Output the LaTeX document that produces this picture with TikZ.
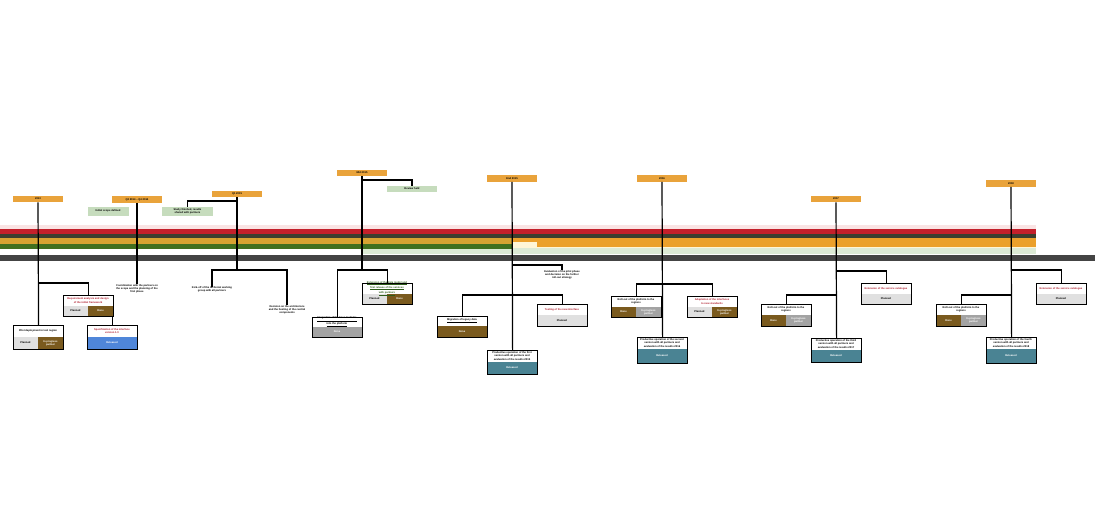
\documentclass[tikz,border=0pt]{standalone}
\usepackage{fontspec}
\setmainfont{Liberation Sans}
\definecolor{hdr}{HTML}{E9A33B}
\definecolor{gbox}{HTML}{C6DCBD}
\definecolor{brownc}{HTML}{7A5A1E}
\definecolor{lgrey}{HTML}{E0E0E0}
\definecolor{mgrey}{HTML}{A3A3A3}
\definecolor{bluec}{HTML}{4F86D9}
\definecolor{tealc}{HTML}{4A8393}
\definecolor{redt}{HTML}{B01E2E}
\definecolor{greent}{HTML}{2E5E1A}
\definecolor{pinkb}{HTML}{FAE4E4}
\definecolor{redb}{HTML}{C3202B}
\definecolor{darkb}{HTML}{3B3F2F}
\definecolor{yellb}{HTML}{D7A332}
\definecolor{greenb}{HTML}{41701F}
\definecolor{lgreenb}{HTML}{DCEAD5}
\definecolor{orangeb}{HTML}{EBA02B}
\definecolor{lyellb}{HTML}{FFF5D6}
\definecolor{axisc}{HTML}{444444}
\newcommand\tinyfont{\fontsize{2.6}{3.2}\selectfont\bfseries}
% one-colour bottom card: name,x,y,h,split,bottom colour,top text,text colour
\newcommand\cardone[8]{%
  \fill[white] (#2,#3) rectangle ++(50,#4);
  \fill[#6] (#2,#3+#5) rectangle ++(50,#4-#5);
  \node[cardframe, minimum height=#4pt] (#1) at (#2,#3) {};
  \node[txt, text=#8] (#1t) at (#2+25,#3+#5/2) {#7};
}
% two-colour bottom card: name,x,y,h,split,left colour,right colour,top text,text colour
\newcommand\cardtwo[9]{%
  \fill[white] (#2,#3) rectangle ++(50,#4);
  \fill[#6] (#2,#3+#5) rectangle ++(25,#4-#5);
  \fill[#7] (#2+25,#3+#5) rectangle ++(25,#4-#5);
  \node[cardframe, minimum height=#4pt] (#1) at (#2,#3) {};
  \node[txt, text=#9] (#1t) at (#2+25,#3+#5/2) {#8};
}
\begin{document}
\begin{tikzpicture}[x=1pt,y=-1pt,
  hdrbox/.style={fill=hdr, minimum width=50pt, minimum height=6.5pt, inner sep=0pt, font=\tinyfont},
  gnbox/.style={fill=gbox, minimum width=50pt, minimum height=8pt, inner sep=0pt, font=\tinyfont, align=center},
  conn/.style={line width=1.2pt, black},
  cardframe/.style={draw, line width=1.2pt, anchor=north west, minimum width=50pt, inner sep=0pt},
  txt/.style={font=\tinyfont, align=center, inner sep=0pt},
]
\useasboundingbox (0,0) rectangle (1095,522);
\fill[white] (0,0) rectangle (1095,522);

% ---- bands ----
\fill[pinkb] (0,225) rectangle (1036,229);
\fill[redb] (0,229) rectangle (1036,234);
\fill[darkb] (0,234) rectangle (1036,238);
\fill[yellb] (0,238) rectangle (512,244);
\fill[greenb] (0,244) rectangle (512,249);
\fill[lgreenb] (362,249) rectangle (512,254);
\fill[orangeb] (512,238) rectangle (537,242);
\fill[lyellb] (512,242) rectangle (537,247);
\fill[orangeb] (537,238) rectangle (1036,247);
\fill[lyellb] (512,247) rectangle (1036,248);
\fill[lgreenb] (512,248) rectangle (1036,254);
\fill[axisc] (0,255) rectangle (1095,261);

% ---- headers ----
\node[hdrbox] (h1) at (38,199) {2013};
\node[hdrbox] (h2) at (137,199.5) {Q2 2014 -- Q4 2014};
\node[hdrbox] (h3) at (237,194) {Q1 2015};
\node[hdrbox] (h4) at (362,173) {Mid 2015};
\node[hdrbox] (h5) at (512,178.5) {End 2015};
\node[hdrbox] (h6) at (662,178.5) {2016};
\node[hdrbox] (h7) at (836,199) {2017};
\node[hdrbox] (h8) at (1011,183.5) {2018};

% ---- green notes ----
\node[gnbox, minimum width=41pt, minimum height=9pt] (g1) at (108,211) {Initial scope defined};
\node[gnbox, minimum width=51pt, minimum height=9pt] (g3) at (187.5,211.5) {Study finished, results\\ shared with partners};
\node[gnbox, minimum height=6.5pt] (g4) at (412,189) {Review held};

% ---- cards ----
\cardtwo{A0}{13}{325}{24}{12}{lgrey}{brownc}{Pilot deployment in test region}{black}
\node[txt] (A0l) at (25.5,343) {Planned};
\node[txt, text=white] (A0r) at (50.5,343) {In progress\\ partner};
\cardtwo{A1}{63}{295}{21}{11}{lgrey}{brownc}{Requirement analysis and design\\ of the initial framework}{redt}
\node[txt] (A1l) at (75.5,311) {Planned};
\node[txt, text=white] (A1r) at (100.5,311) {Done};
\cardone{A2}{87}{325}{24}{12}{bluec}{Specification of the interface\\ version 1.0}{redt}
\node[txt, text=white] (A2b) at (112,343) {Released};

\cardone{D0}{312}{317}{20}{10}{mgrey}{\underline{Integration of the base modules}\\ \underline{into the platform}}{black}
\node[txt, text=white] (D0b) at (337,332) {Done};
\cardtwo{D1}{362}{283}{21}{11}{lgrey}{brownc}{\underline{Extension of the data model and}\\ \underline{first release of the services}\\ \underline{with partners}}{greent}
\node[txt] (D1l) at (374.5,299) {Planned};
\node[txt, text=white] (D1r) at (399.5,299) {Done};

\cardone{E0}{437}{316}{21}{10}{brownc}{\underline{Migration of legacy data}}{black}
\node[txt, text=white] (E0b) at (462,331.5) {Done};
\cardone{E1}{537}{304}{22}{11}{lgrey}{Testing of the new interface}{redt}
\node[txt] (E1b) at (562,320.5) {Planned};
\cardone{E2}{487}{350}{24}{12}{tealc}{Productive operation of the first\\ version with all partners and\\ evaluation of the results 2015}{black}
\node[txt, text=white] (E2b) at (512,368) {Released};

\cardtwo{F0}{611}{296}{21}{11}{brownc}{mgrey}{Roll-out of the platform to the\\ regions}{black}
\node[txt, text=white] (F0l) at (623.5,312) {Done};
\node[txt, text=white] (F0r) at (648.5,312) {In progress\\ partner};
\cardtwo{F1}{687}{296}{21}{11}{lgrey}{brownc}{Adaptation of the interfaces\\ to new standards}{redt}
\node[txt] (F1l) at (699.5,312) {Planned};
\node[txt, text=white] (F1r) at (724.5,312) {In progress\\ partner};
\cardone{F2}{637}{337}{26}{12}{tealc}{Productive operation of the second\\ version with all partners and\\ evaluation of the results 2016}{black}
\node[txt, text=white] (F2b) at (662,356) {Released};

\cardtwo{G0}{761}{304}{22}{11}{brownc}{mgrey}{Roll-out of the platform to the\\ regions}{black}
\node[txt, text=white] (G0l) at (773.5,320.5) {Done};
\node[txt, text=white] (G0r) at (798.5,320.5) {In progress\\ partner};
\cardone{G1}{861}{283}{21}{11}{lgrey}{Extension of the service catalogue}{redt}
\node[txt] (G1b) at (886,299) {Planned};
\cardone{G2}{811}{338}{24}{12}{tealc}{Productive operation of the third\\ version with all partners and\\ evaluation of the results 2017}{black}
\node[txt, text=white] (G2b) at (836,356) {Released};

\cardtwo{H0}{936}{304}{22}{11}{brownc}{mgrey}{Roll-out of the platform to the\\ regions}{black}
\node[txt, text=white] (H0l) at (948.5,320.5) {Done};
\node[txt, text=white] (H0r) at (973.5,320.5) {In progress\\ partner};
\cardone{H1}{1036}{283}{21}{11}{lgrey}{Extension of the service catalogue}{redt}
\node[txt] (H1b) at (1061,299) {Planned};
\cardone{H2}{986}{337}{26}{12}{tealc}{Productive operation of the fourth\\ version with all partners and\\ evaluation of the results 2018}{black}
\node[txt, text=white] (H2b) at (1011,356) {Released};

% ---- free texts ----
\node[txt, anchor=north] (t2) at (137,284) {Coordination with the partners on\\ the scope and the planning of the\\ first phase};
\node[txt, anchor=north] (t3a) at (212,286.5) {Kick-off of the technical working\\ group with all partners};
\node[txt, anchor=north] (t3b) at (287,305) {Decision on the architecture\\ and the hosting of the central\\ components};
\node[txt, anchor=north] (t5) at (562,270) {Evaluation of the pilot phase\\ and decision on the further\\ roll-out strategy};

% ---- connectors ----
\coordinate (j1) at (38,283);
\draw[conn] (h1.south) -- (A0.north);
\draw[conn] (j1) -| (A1.north);
\draw[conn] (A2.north) -- (A2.north |- A1.south);

\draw[conn] (h2.south) -- (t2.north);

\coordinate (k3) at (237,201);
\coordinate (j3) at (237,270);
\draw[conn] (h3.south) -- (j3);
\draw[conn] (k3) -| (g3.north);
\draw[conn] (t3a.north) |- (j3) -| (t3b.north);

\coordinate (k4) at (362,180);
\coordinate (j4) at (362,270);
\draw[conn] (h4.south) -- (j4);
\draw[conn] (k4) -| (g4.north);
\draw[conn] (D0.north) |- (j4) -| (D1.north);

\coordinate (j5a) at (512,265);
\coordinate (j5b) at (512,295);
\draw[conn] (h5.south) -- (E2.north);
\draw[conn] (j5a) -| (t5.north);
\draw[conn] (E0.north) -- (E0.north |- j5b) -- (E1.north |- j5b) -- (E1.north);

\coordinate (j6) at (662,284);
\draw[conn] (h6.south) -- (F2.north);
\draw[conn] (F0.north) -- (F0.north |- j6) -- (F1.north |- j6) -- (F1.north);

\coordinate (j7a) at (836,271);
\coordinate (j7b) at (836,295);
\draw[conn] (h7.south) -- (G2.north);
\draw[conn] (j7a) -| (G1.north);
\draw[conn] (j7b) -| (G0.north);

\coordinate (j8a) at (1011,270);
\coordinate (j8b) at (1011,295);
\draw[conn] (h8.south) -- (H2.north);
\draw[conn] (j8a) -| (H1.north);
\draw[conn] (j8b) -| (H0.north);
\end{tikzpicture}
\end{document}
